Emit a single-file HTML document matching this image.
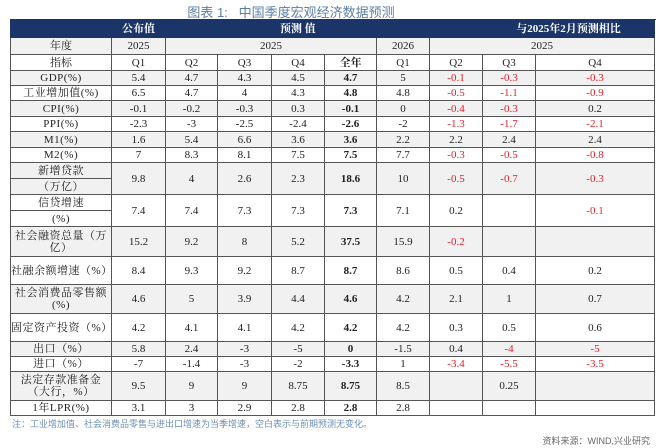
<!DOCTYPE html>
<html><head><meta charset="utf-8"><style>
body{margin:0;width:660px;height:448px;background:#fff;position:relative;overflow:hidden;font-family:"Liberation Serif","Noto Serif CJK SC",serif;}
#title{position:absolute;left:0;width:582px;top:2px;text-align:center;font:13px "Liberation Sans","Noto Sans CJK SC",sans-serif;color:#5b7fa6;}
table{position:absolute;left:10px;top:19px;border-collapse:collapse;table-layout:fixed;width:644px;}
td{border:1px solid #555;padding:0;text-align:center;font-size:11px;color:#222;line-height:12px;overflow:hidden;white-space:nowrap;}
tr.h td{background:#1b3568;color:#fff;font-weight:bold;border-color:#1b3568;border-left:1px solid #fff;height:17px;}
tr.g td{background:#f1f1f1;}
td.b{font-weight:bold;}
td.r{color:#e8202a;}
td.l{font-size:11px;letter-spacing:0.5px;}
#note{position:absolute;left:12px;top:417px;font:9px "Liberation Sans","Noto Sans CJK SC",sans-serif;color:#6d8fb3;}
#src{position:absolute;right:10px;top:434px;font:9px "Liberation Sans","Noto Sans CJK SC",sans-serif;color:#666;}
</style></head><body>
<div id="title">图表 1:&nbsp;&nbsp; 中国季度宏观经济数据预测</div>
<table>
<colgroup><col style="width:101px"><col style="width:54px"><col style="width:52px"><col style="width:54px"><col style="width:53px"><col style="width:52px"><col style="width:53px"><col style="width:53px"><col style="width:53px"><col style="width:119px"></colgroup>
<tr class="h"><td style="border-left-color:#1b3568"></td><td>公布值</td><td colspan="5" style="border-right:none">预测 值</td><td style="border-left:none"></td><td colspan="3">与2025年2月预测相比</td></tr>
<tr class="g" style="height:17px"><td>年度</td><td>2025</td><td colspan="4">2025</td><td>2026</td><td colspan="3">2025</td></tr>
<tr style="height:16px"><td>指标</td><td>Q1</td><td>Q2</td><td>Q3</td><td>Q4</td><td class="b">全年</td><td>Q1</td><td>Q2</td><td>Q3</td><td>Q4</td></tr>
<tbody id="body"></tbody>
</table>
<div id="note">注：工业增加值、社会消费品零售与进出口增速为当季增速，空白表示与前期预测无变化。</div>
<div id="src">资料来源：WIND,兴业研究</div>
<script>
const labels=["GDP(%)","工业增加值(%)","CPI(%)","PPI(%)","M1(%)","M2(%)",["新增贷款","（万亿）"],["信贷增速","(%)"],"社会融资总量（万<br>亿）","社融余额增速（%）","社会消费品零售额<br>(%)","固定资产投资（%）","出口（%）","进口（%）","法定存款准备金<br>（大行，%）","1年LPR(%)"];
const q1_2025=["5.4","6.5","-0.1","-2.3","1.6","7","9.8","7.4","15.2","8.4","4.6","4.2","5.8","-7","9.5","3.1"];
const q2_2025=["4.7","4.7","-0.2","-3","5.4","8.3","4","7.4","9.2","9.3","5","4.1","2.4","-1.4","9","3"];
const q3_2025=["4.3","4","-0.3","-2.5","6.6","8.1","2.6","7.3","8","9.2","3.9","4.1","-3","-3","9","2.9"];
const q4_2025=["4.5","4.3","0.3","-2.4","3.6","7.5","2.3","7.3","5.2","8.7","4.4","4.2","-5","-2","8.75","2.8"];
const fullYear=["4.7","4.8","-0.1","-2.6","3.6","7.5","18.6","7.3","37.5","8.7","4.6","4.2","0","-3.3","8.75","2.8"];
const q1_2026=["5","4.8","0","-2","2.2","7.7","10","7.1","15.9","8.6","4.2","4.2","-1.5","1","8.5","2.8"];
const diffQ2=["-0.1","-0.5","-0.4","-1.3","2.2","-0.3","-0.5","0.2","-0.2","0.5","2.1","0.3","0.4","-3.4","",""];
const diffQ3=["-0.3","-1.1","-0.3","-1.7","2.4","-0.5","-0.7","","","0.4","1","0.5","-4","-5.5","0.25",""];
const diffQ4=["-0.3","-0.9","0.2","-2.1","2.4","-0.8","-0.3","-0.1","","0.2","0.7","0.6","-5","-3.5","",""];
const rowH=[15,15,16,15,16,15,16,16,30,28,29,28,15,15,29,15];
const body=document.getElementById('body');
labels.forEach((lab,i)=>{
  const split=Array.isArray(lab);
  const tr=document.createElement('tr');
  
  
  if(i%2===0) tr.className='g';
  tr.style.height=rowH[i]+'px';
  let h='<td class="l">'+(split?lab[0]:lab)+'</td>';
  const rs=split?' rowspan="2"':'';
  h+='<td'+rs+'>'+q1_2025[i]+'</td><td'+rs+'>'+q2_2025[i]+'</td><td'+rs+'>'+q3_2025[i]+'</td><td'+rs+'>'+q4_2025[i]+'</td><td class="b"'+rs+'>'+fullYear[i]+'</td><td'+rs+'>'+q1_2026[i]+'</td>';
  [diffQ2[i],diffQ3[i],diffQ4[i]].forEach(v=>{h+='<td'+rs+(v.startsWith('-')?' class="r"':'')+'>'+v+'</td>';});
  tr.innerHTML=h;
  body.appendChild(tr);
  if(split){
    const tr2=document.createElement('tr');
    
    
    if(i%2===0) tr2.className='g';
    tr2.style.height=rowH[i]+'px';
    tr2.innerHTML='<td class="l">'+lab[1]+'</td>';
    body.appendChild(tr2);
  }
});
</script>
</body></html>
